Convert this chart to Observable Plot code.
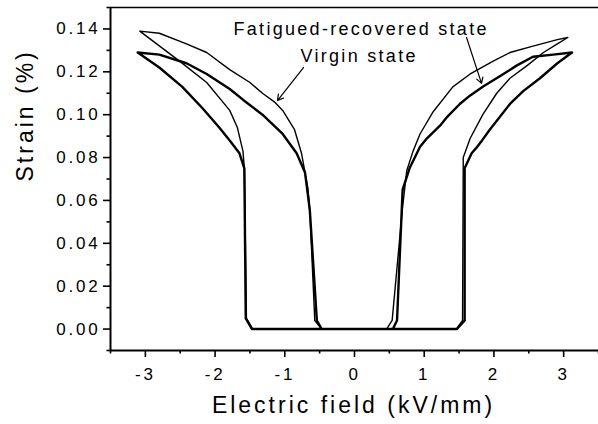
<!DOCTYPE html>
<html><head><meta charset="utf-8">
<script src="https://cdn.jsdelivr.net/npm/d3@7"></script>
<script src="https://cdn.jsdelivr.net/npm/@observablehq/plot@0.6"></script>
<style>body{margin:0;background:#fff}</style>
</head><body><div id="chart"></div>
<script>
// ---- axes ----
const xDomain = [-3.5, 3.5];
const yDomain = [-0.01, 0.15];
const xTicks = [-3, -2, -1, 0, 1, 2, 3];
const xMinor = [-3.5, -2.5, -1.5, -0.5, 0.5, 1.5, 2.5, 3.5];
const yTicks = [0, 0.02, 0.04, 0.06, 0.08, 0.10, 0.12, 0.14];
const yMinor = [-0.01, 0.01, 0.03, 0.05, 0.07, 0.09, 0.11, 0.13, 0.15];
const xLabel = "Electric field (kV/mm)";
const yLabel = "Strain (%)";

// ---- virgin state (thin line), [E (kV/mm), strain (%)] ----
const virginRightRise = [[0,0],[1.46,0],[1.55,0.004],[1.56,0.080],[1.66,0.089],[1.84,0.100],[2.04,0.110],[2.23,0.117],[2.48,0.123],[2.71,0.129],[2.91,0.133],[3.06,0.136]];
const virginRightFall = [[3.06,0.136],[2.91,0.135],[2.56,0.132],[2.23,0.129],[1.99,0.125],[1.66,0.119],[1.41,0.113],[1.12,0.101],[0.94,0.091],[0.84,0.083],[0.75,0.074],[0.69,0.057],[0.54,0.004],[0.46,0]];
const virginLeftRise = [[0.46,0],[-1.46,0],[-1.55,0.005],[-1.58,0.075],[-1.60,0.083],[-1.68,0.094],[-1.79,0.102],[-2.12,0.115],[-2.51,0.125],[-3.08,0.139]];
const virginLeftFall = [[-3.08,0.139],[-2.80,0.138],[-2.41,0.133],[-2.12,0.129],[-1.79,0.121],[-1.50,0.115],[-1.32,0.110],[-1.15,0.106],[-1.03,0.102],[-0.86,0.093],[-0.76,0.082],[-0.67,0.066],[-0.64,0.055],[-0.57,0.004],[-0.47,0],[0,0]];

// ---- fatigued-recovered state (thick line) ----
const fatiguedRightRise = [[0,0],[1.47,0],[1.58,0.004],[1.58,0.075],[1.68,0.082],[1.76,0.085],[1.83,0.088],[1.94,0.093],[2.23,0.105],[2.42,0.111],[2.66,0.117],[2.91,0.124],[3.12,0.129]];
const fatiguedRightFall = [[3.12,0.129],[2.85,0.128],[2.56,0.127],[2.33,0.123],[2.09,0.118],[1.84,0.113],[1.66,0.109],[1.51,0.105],[1.33,0.099],[1.23,0.095],[1.04,0.089],[0.94,0.085],[0.79,0.075],[0.69,0.065],[0.61,0.004],[0.55,0]];
const fatiguedLeftRise = [[0.55,0],[-1.47,0],[-1.56,0.005],[-1.58,0.075],[-1.65,0.082],[-1.79,0.088],[-1.94,0.094],[-2.18,0.103],[-2.47,0.113],[-2.80,0.122],[-3.11,0.129]];
const fatiguedLeftFall = [[-3.11,0.129],[-2.80,0.128],[-2.41,0.124],[-2.12,0.119],[-1.79,0.112],[-1.60,0.107],[-1.32,0.100],[-1.03,0.091],[-0.83,0.082],[-0.71,0.073],[-0.67,0.063],[-0.64,0.055],[-0.54,0.004],[-0.47,0],[0,0]];

// ---- annotations ----
const noteTexts = ["Fatigued-recovered state", "Virgin state"];
const noteX = [-1.736, -0.775];
const noteY = [0.1397, 0.1271];
const arrowFrom = [[1.607, 0.136], [-0.732, 0.122]];
const arrowTo = [[1.822, 0.1146], [-1.105, 0.1066]];

const toPts = arr => arr.map(([e, s]) => ({e, s}));
const virgin = toPts([...virginRightRise, ...virginRightFall, ...virginLeftRise, ...virginLeftFall]);
const fatigued = toPts([...fatiguedRightRise, ...fatiguedRightFall, ...fatiguedLeftRise, ...fatiguedLeftFall]);
const notes = noteTexts.map((t, i) => ({t, x: noteX[i], y: noteY[i]}));
const arrows = arrowFrom.map((f, i) => ({x1: f[0], y1: f[1], x2: arrowTo[i][0], y2: arrowTo[i][1]}));

const font = "'Liberation Sans', Arial, Helvetica, sans-serif";

const chart = Plot.plot({
  width: 598,
  height: 424,
  marginLeft: 110,
  marginRight: 0,
  marginTop: 7,
  marginBottom: 74,
  style: {fontFamily: font, color: "black", background: "white"},
  x: {domain: xDomain},
  y: {domain: yDomain},
  marks: [
    Plot.ruleY([yDomain[1]], {stroke: "black", strokeWidth: 1.5}),
    Plot.ruleY([yDomain[0]], {stroke: "black", strokeWidth: 2}),
    Plot.ruleX([xDomain[0]], {stroke: "black", strokeWidth: 2}),
    Plot.axisX(xTicks, {anchor: "bottom", tickSize: 7, tickPadding: 10, tickFormat: d => String(d), fontSize: 17, strokeWidth: 1.6, label: null}),
    Plot.axisX(xMinor, {anchor: "bottom", tickSize: 3.5, tickFormat: () => "", strokeWidth: 1.6, label: null}),
    Plot.axisY(yTicks, {anchor: "left", tickSize: 7, tickPadding: 3, tickFormat: d3.format(".2f"), fontSize: 17, strokeWidth: 1.6, label: null}),
    Plot.axisY(yMinor, {anchor: "left", tickSize: 3.5, tickFormat: () => "", strokeWidth: 1.6, label: null}),
    Plot.line(virgin, {x: "e", y: "s", stroke: "black", strokeWidth: 1.4, strokeLinejoin: "round"}),
    Plot.line(fatigued, {x: "e", y: "s", stroke: "black", strokeWidth: 2.4, strokeLinejoin: "round"}),
    Plot.arrow(arrows, {x1: "x1", y1: "y1", x2: "x2", y2: "y2", stroke: "black", strokeWidth: 1.2, headLength: 8}),
    Plot.text(notes, {x: "x", y: "y", text: "t", textAnchor: "start", fontSize: 18, lineAnchor: "middle", fill: "black"}),
    Plot.text([xLabel], {text: d => d, frameAnchor: "bottom", dx: -1, dy: 55.6, fontSize: 23, lineAnchor: "middle", fill: "black"}),
    Plot.text([yLabel], {text: d => d, frameAnchor: "left", rotate: -90, dx: -84.4, dy: 2.5, fontSize: 23, lineAnchor: "middle", fill: "black"})
  ]
});
document.getElementById("chart").appendChild(chart);
const svg = d3.select(chart);
svg.selectAll("text").each(function() {
  const t = this.textContent;
  let ls = "2.8px";
  if (noteTexts.includes(t)) ls = "2.3px";
  else if (t === xLabel || t === yLabel) ls = "3px";
  d3.select(this).style("letter-spacing", ls);
});
</script>
</body></html>
